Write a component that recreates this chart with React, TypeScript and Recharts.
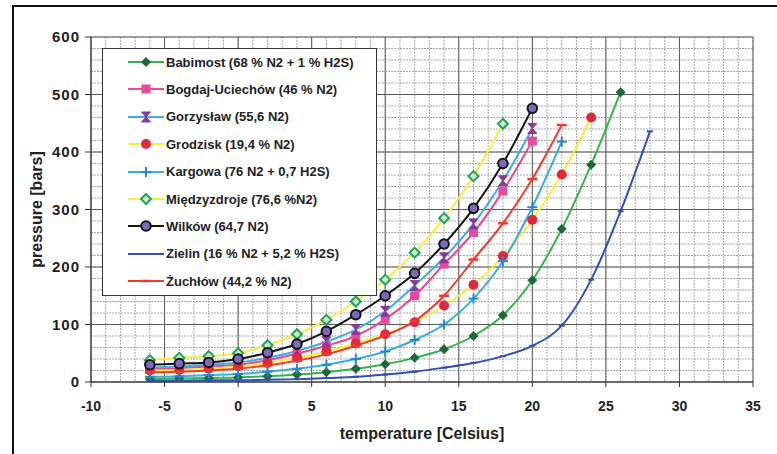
import React from 'react';
import { LineChart, Line, XAxis, YAxis, CartesianGrid, Legend } from 'recharts';

const FONT = '"Liberation Sans", Arial, sans-serif';

// temperature points [Celsius]
const temps = [-6, -4, -2, 0, 2, 4, 6, 8, 10, 12, 14, 16, 18, 20, 22, 24, 26, 28];

// pressure [bars] per gas field
const babimost = [5, 6, 7, 8, 10, 13, 17, 23, 31, 42, 57, 80, 116, 177, 266, 378, 504];
const bogdaj = [22, 24, 27, 30, 38, 49, 63, 80, 109, 150, 205, 260, 332, 419];
const gorzyslaw = [25, 27, 30, 34, 42, 54, 70, 91, 123, 168, 216, 275, 350, 441];
const grodzisk = [20, 21, 23, 27, 33, 42, 53, 67, 83, 104, 133, 169, 219, 282, 361, 460];
const kargowa = [9, 10, 12, 14, 18, 23, 30, 40, 53, 73, 100, 145, 210, 304, 418];
const miedzyzdroje = [38, 42, 45, 50, 64, 83, 108, 140, 178, 225, 285, 358, 449];
const wilkow = [30, 32, 34, 40, 51, 66, 88, 117, 150, 189, 240, 302, 380, 476];
const zielin = [2, 2, 3, 3, 4, 5, 7, 9, 13, 18, 25, 33, 45, 63, 98, 178, 297, 436];
const zuchlow = [17, 18, 20, 23, 29, 37, 48, 63, 81, 106, 150, 213, 276, 353, 447];

// axis ticks and grid
const xTicks = [-10, -5, 0, 5, 10, 15, 20, 25, 30, 35];
const yTicks = [0, 100, 200, 300, 400, 500, 600];
const xMinor = [-10, -9, -8, -7, -6, -5, -4, -3, -2, -1, 0, 1, 2, 3, 4, 5, 6, 7, 8, 9, 10, 11, 12, 13, 14, 15, 16, 17, 18, 19, 20, 21, 22, 23, 24, 25, 26, 27, 28, 29, 30, 31, 32, 33, 34, 35];
const yMinor = [0, 20, 40, 60, 80, 100, 120, 140, 160, 180, 200, 220, 240, 260, 280, 300, 320, 340, 360, 380, 400, 420, 440, 460, 480, 500, 520, 540, 560, 580, 600];

type MarkerType = 'diamond' | 'square' | 'x' | 'circle' | 'plus' | 'hollowDiamond' | 'ringCircle' | 'smallDash' | 'dash';

const series: { name: string; values: number[]; color: string; marker: MarkerType; markerColor: string }[] = [
  { name: 'Babimost (68 % N2 + 1 % H2S)', values: babimost, color: '#34b44a', marker: 'diamond', markerColor: '#1d6a38' },
  { name: 'Bogdaj-Uciechów (46 % N2)', values: bogdaj, color: '#ec4592', marker: 'square', markerColor: '#ea4a9c' },
  { name: 'Gorzysław (55,6 N2)', values: gorzyslaw, color: '#3aaeea', marker: 'x', markerColor: '#8d3599' },
  { name: 'Grodzisk (19,4 % N2)', values: grodzisk, color: '#f3ef3a', marker: 'circle', markerColor: '#e2283f' },
  { name: 'Kargowa (76 N2 + 0,7 H2S)', values: kargowa, color: '#38ace2', marker: 'plus', markerColor: '#2a86cf' },
  { name: 'Międzyzdroje (76,6 %N2)', values: miedzyzdroje, color: '#f5ee3e', marker: 'hollowDiamond', markerColor: '#24a05a' },
  { name: 'Wilków (64,7 N2)', values: wilkow, color: '#141414', marker: 'ringCircle', markerColor: '#7c6bbd' },
  { name: 'Zielin (16 % N2 + 5,2 % H2S)', values: zielin, color: '#2f4fbf', marker: 'smallDash', markerColor: '#2f4fbf' },
  { name: 'Żuchłów (44,2 % N2)', values: zuchlow, color: '#ee3a2c', marker: 'dash', markerColor: '#ee3a2c' },
];

const toPoints = (vals: number[]) => vals.map((p, i) => ({ t: temps[i], p }));

function Marker({ type, cx, cy, color }: { type: MarkerType; cx: number; cy: number; color: string }) {
  switch (type) {
    case 'diamond':
      return <polygon points={`${cx},${cy - 5} ${cx + 5},${cy} ${cx},${cy + 5} ${cx - 5},${cy}`} fill={color} />;
    case 'square':
      return <rect x={cx - 4.5} y={cy - 4.5} width={9} height={9} fill={color} />;
    case 'x':
      return (
        <g>
          <polygon points={`${cx - 4.5},${cy - 5} ${cx + 4.5},${cy - 5} ${cx - 4.5},${cy + 5} ${cx + 4.5},${cy + 5}`} fill={color} stroke={color} strokeWidth={1} strokeLinejoin="round" />
        </g>
      );
    case 'circle':
      return <circle cx={cx} cy={cy} r={5} fill={color} />;
    case 'plus':
      return (
        <g stroke={color} strokeWidth={2}>
          <line x1={cx - 5} y1={cy} x2={cx + 5} y2={cy} />
          <line x1={cx} y1={cy - 5} x2={cx} y2={cy + 5} />
        </g>
      );
    case 'hollowDiamond':
      return <polygon points={`${cx},${cy - 5} ${cx + 5},${cy} ${cx},${cy + 5} ${cx - 5},${cy}`} fill="#c8ecc8" stroke={color} strokeWidth={2} />;
    case 'ringCircle':
      return <circle cx={cx} cy={cy} r={4.8} fill={color} stroke="#141414" strokeWidth={2} />;
    case 'smallDash':
      return <line x1={cx - 3} y1={cy} x2={cx + 3} y2={cy} stroke={color} strokeWidth={2} />;
    case 'dash':
      return <line x1={cx - 5} y1={cy} x2={cx + 5} y2={cy} stroke={color} strokeWidth={2.5} />;
    default:
      return null;
  }
}

const makeDot = (type: MarkerType, color: string) => (props: any) => {
  const { cx, cy, index } = props;
  if (cx == null || cy == null) return <g key={`d-${index}`} />;
  return (
    <g key={`d-${type}-${index}`}>
      <Marker type={type} cx={cx} cy={cy} color={color} />
    </g>
  );
};

const renderLegend = () => (
  <div
    style={{
      position: 'relative',
      width: 275,
      height: 248,
      border: '1px solid #333',
      background: '#fff',
      boxSizing: 'border-box',
      fontFamily: FONT,
      fontWeight: 'bold',
      fontSize: 13,
      color: '#222',
    }}
  >
    {series.map((s, i) => (
      <div
        key={s.name}
        style={{
          position: 'absolute',
          left: 24,
          top: 13 + i * 27.4 - 8,
          height: 16,
          display: 'flex',
          alignItems: 'center',
          whiteSpace: 'nowrap',
        }}
      >
        <svg width={38} height={16} style={{ display: 'block' }}>
          <line x1={1} y1={8} x2={37} y2={8} stroke={s.color} strokeWidth={2} />
          <Marker type={s.marker} cx={19} cy={8} color={s.markerColor} />
        </svg>
        <span style={{ marginLeft: 1 }}>{s.name}</span>
      </div>
    ))}
  </div>
);

export default function App() {
  return (
    <div style={{ position: 'absolute', left: 0, top: 0, width: 777, height: 454, background: '#fff', overflow: 'hidden' }}>
      <div style={{ position: 'absolute', left: 12, top: 5, width: 777, height: 460, borderLeft: '2px solid #111', borderTop: '2px solid #111' }} />
      <div style={{ position: 'absolute', left: 0, top: 0 }}>
        <LineChart width={777} height={454} margin={{ top: 37, right: 24, bottom: 12, left: 41 }}>
          <CartesianGrid horizontalValues={yMinor} verticalValues={xMinor} stroke="#a8a8a8" strokeDasharray="2 1" />
          <CartesianGrid horizontalValues={yTicks} verticalValues={xTicks} stroke="#5a5a5a" />
          <XAxis
            dataKey="t"
            type="number"
            domain={[-10, 35]}
            ticks={xTicks}
            interval={0}
            allowDataOverflow
            height={60}
            tickSize={5}
            tickMargin={14}
            axisLine={{ stroke: '#333' }}
            tickLine={{ stroke: '#333' }}
            tick={{ fill: '#222', fontSize: 14, fontWeight: 'bold', fontFamily: FONT }}
            label={{ value: 'temperature [Celsius]', position: 'insideBottom', offset: 3, style: { fontSize: 16, fontWeight: 'bold', fontFamily: FONT, fill: '#222' } }}
          />
          <YAxis
            type="number"
            domain={[0, 600]}
            ticks={yTicks}
            interval={0}
            allowDataOverflow
            width={50}
            tickSize={6}
            tickMargin={5}
            axisLine={{ stroke: '#333' }}
            tickLine={{ stroke: '#333' }}
            tick={{ fill: '#222', fontSize: 15, fontWeight: 'bold', fontFamily: FONT, letterSpacing: 1 }}
            label={{ value: 'pressure [bars]', angle: -90, position: 'insideLeft', offset: -5, style: { textAnchor: 'middle', fontSize: 16, fontWeight: 'bold', fontFamily: FONT, fill: '#222' } }}
          />
          <Legend
            layout="vertical"
            align="center"
            verticalAlign="middle"
            content={renderLegend}
            wrapperStyle={{ left: 102, top: 48, width: 275, height: 248 }}
          />
          {series.map((s) => (
            <Line
              key={s.name}
              name={s.name}
              data={toPoints(s.values)}
              dataKey="p"
              type="monotone"
              stroke={s.color}
              strokeWidth={2}
              dot={makeDot(s.marker, s.markerColor)}
              activeDot={false}
              isAnimationActive={false}
            />
          ))}
        </LineChart>
      </div>
    </div>
  );
}
